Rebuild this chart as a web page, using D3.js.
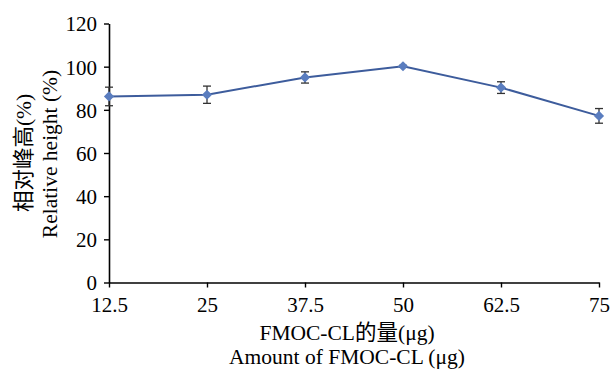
<!DOCTYPE html>
<html>
<head>
<meta charset="utf-8">
<script src="https://cdn.jsdelivr.net/npm/d3@7"></script>
<style>
  body { margin: 0; background: #fff; }
  svg text { font-family: "Liberation Serif", "Times New Roman", "Noto Sans CJK SC", serif; }
</style>
</head>
<body>
<div id="chart"></div>
<script>
// chart data
var amounts = ["12.5", "25", "37.5", "50", "62.5", "75"];
var relHeight = [86.2, 87.0, 95.0, 100.2, 90.3, 77.2];
var errors = [4.3, 4.0, 2.6, 0.4, 2.7, 3.4];
var yTicks = [0, 20, 40, 60, 80, 100, 120];

var width = 611,
  height = 376;
var serif = '"Liberation Serif", "Times New Roman", "Noto Sans CJK SC", serif';

var svg = d3
  .select("#chart")
  .append("svg")
  .attr("width", width)
  .attr("height", height);

var xScale = d3.scalePoint().domain(amounts).range([109, 599]).padding(0);
var yScale = d3.scaleLinear().domain([0, 120]).range([282.5, 23.5]);

// y axis
var yAxis = d3.axisLeft(yScale).tickValues(yTicks).tickSize(5).tickPadding(7).tickSizeOuter(0);
var yAxisGroup = svg
  .append("g")
  .attr("transform", "translate(109,0)")
  .call(yAxis);

// x axis
var xAxis = d3.axisBottom(xScale).tickSize(5).tickPadding(10).tickSizeOuter(0);
var xAxisGroup = svg
  .append("g")
  .attr("transform", "translate(0,282.5)")
  .call(xAxis);

[yAxisGroup, xAxisGroup].forEach(function(g) {
  g.attr("font-family", serif);
  g.select(".domain").attr("stroke", "#000").attr("stroke-width", 1.6);
  g.selectAll(".tick line").attr("stroke", "#000").attr("stroke-width", 1.4);
  g.selectAll(".tick text")
    .attr("fill", "#000")
    .style("font-size", "21px")
    .style("font-family", serif);
});
yAxisGroup.selectAll(".tick text").attr("dy", "0.35em");

// line
var line = d3
  .line()
  .x(function(d, i) { return xScale(amounts[i]); })
  .y(function(d) { return yScale(d); });

svg
  .append("path")
  .datum(relHeight)
  .attr("d", line)
  .attr("fill", "none")
  .attr("stroke", "#3d5c9c")
  .attr("stroke-width", 2);

// error bars
var eb = svg.append("g").attr("stroke", "#333").attr("stroke-width", 1.3);
relHeight.forEach(function(v, i) {
  var x = xScale(amounts[i]);
  var y1 = yScale(v + errors[i]),
    y2 = yScale(v - errors[i]);
  eb.append("line").attr("x1", x).attr("x2", x).attr("y1", y1).attr("y2", y2);
  eb.append("line").attr("x1", x - 4).attr("x2", x + 4).attr("y1", y1).attr("y2", y1);
  eb.append("line").attr("x1", x - 4).attr("x2", x + 4).attr("y1", y2).attr("y2", y2);
});

// markers (rotated squares)
svg
  .selectAll("path.marker")
  .data(relHeight)
  .enter()
  .append("path")
  .attr("class", "marker")
  .attr("d", d3.symbol().type(d3.symbolSquare).size(52))
  .attr("transform", function(d, i) {
    return "translate(" + xScale(amounts[i]) + "," + yScale(d) + ") rotate(45)";
  })
  .attr("fill", "#5a7dbf");

// axis titles
function title(x, y, rot, txt) {
  svg
    .append("text")
    .attr("transform", "translate(" + x + "," + y + ")" + (rot ? " rotate(-90)" : ""))
    .attr("text-anchor", "middle")
    .attr("font-family", serif)
    .style("font-size", "21.5px")
    .style("fill", "#000")
    .text(txt);
}
title(347, 340, false, "FMOC-CL的量(μg)");
title(347, 364, false, "Amount of FMOC-CL (μg)");
title(31, 153, true, "相对峰高(%)");
title(57, 154, true, "Relative height (%)");
</script>
</body>
</html>
